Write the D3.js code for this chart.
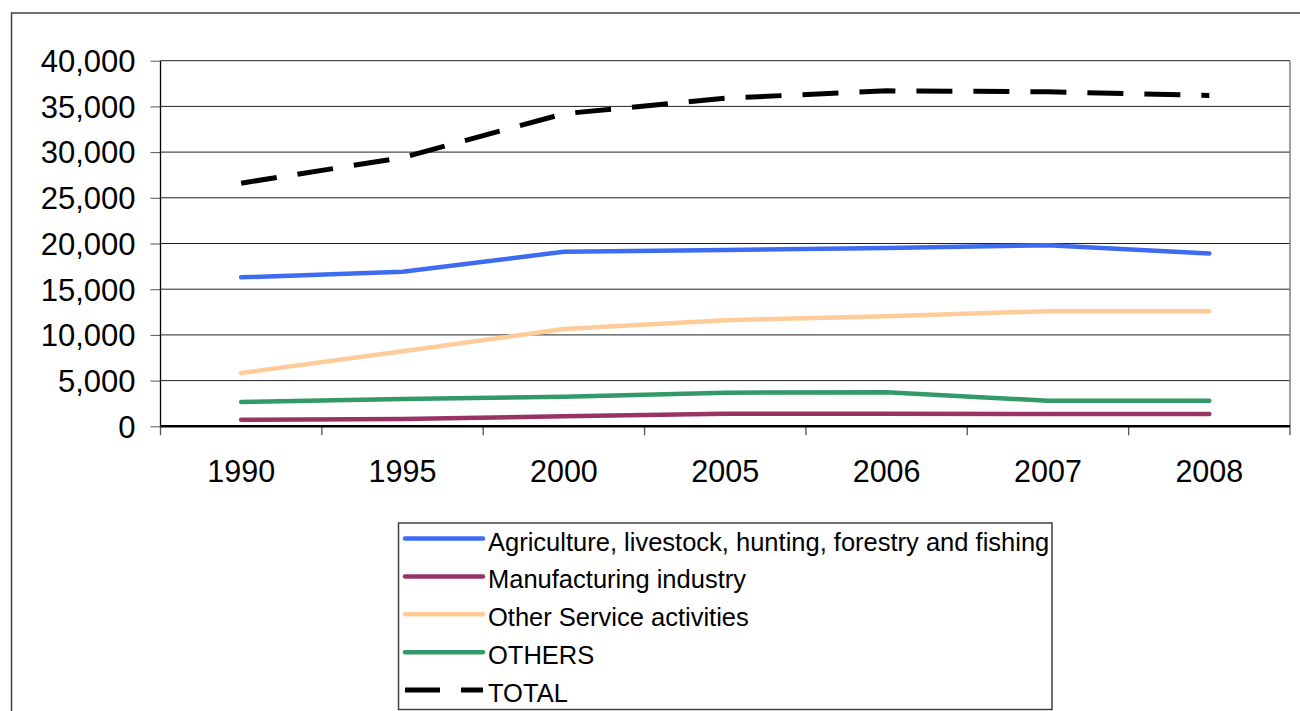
<!DOCTYPE html>
<html lang="en">
<head>
    <meta charset="UTF-8">
    <title>Employment by sector</title>
    <script src="https://d3js.org/d3.v7.min.js"></script>
    <style>
        body { margin: 0; background: #fff; }
        svg { display: block; font-family: "Liberation Sans", Arial, sans-serif; }
        .axis .domain { display: none; }
    </style>
</head>
<body>
    <svg id="chart" width="1300" height="711"></svg>
    <script>
        const years = ["1990", "1995", "2000", "2005", "2006", "2007", "2008"];
        const agriculture = [16300, 16900, 19100, 19300, 19500, 19800, 18900];
        const manufacturing = [720, 800, 1090, 1380, 1380, 1350, 1350];
        const otherServices = [5830, 8200, 10650, 11600, 12050, 12600, 12600];
        const others = [2660, 2990, 3240, 3680, 3720, 2800, 2800];
        const total = [26600, 29400, 34200, 35900, 36700, 36600, 36200];
        const yTicks = [0, 5000, 10000, 15000, 20000, 25000, 30000, 35000, 40000];

        const series = [
            {name: "Agriculture, livestock, hunting, forestry and fishing", values: agriculture, color: "#3d6cf0", dash: null},
            {name: "Manufacturing industry", values: manufacturing, color: "#993366", dash: null},
            {name: "Other Service activities", values: otherServices, color: "#ffcc99", dash: null},
            {name: "OTHERS", values: others, color: "#339966", dash: null},
            {name: "TOTAL", values: total, color: "#000000", dash: "36,21"}
        ];

        const svg = d3.select("#chart");
        const plot = {left: 160.5, right: 1290, top: 60.7, bottom: 426.3};

        // outer chart frame (runs off the right and bottom edges)
        svg.append("rect")
            .attr("x", 11.5).attr("y", 13)
            .attr("width", 1400).attr("height", 800)
            .attr("fill", "none")
            .attr("stroke", "#404040")
            .attr("stroke-width", 1.5);

        const x = d3.scaleBand().domain(years).range([plot.left, plot.right]);
        const y = d3.scaleLinear().domain([0, 40000]).range([plot.bottom, plot.top]);
        const cx = d => x(d) + x.bandwidth() / 2;

        // gridlines
        svg.append("g")
            .selectAll("line")
            .data(yTicks.filter(d => d > 0))
            .join("line")
            .attr("x1", plot.left).attr("x2", plot.right)
            .attr("y1", d => y(d)).attr("y2", d => y(d))
            .attr("stroke", "#222")
            .attr("stroke-width", 1);

        // right edge of plot area
        svg.append("line")
            .attr("x1", plot.right).attr("x2", plot.right)
            .attr("y1", plot.top).attr("y2", plot.bottom)
            .attr("stroke", "#808080").attr("stroke-width", 1.5);

        // y axis
        const yAxis = svg.append("g")
            .attr("class", "axis")
            .attr("transform", `translate(${plot.left},0)`)
            .call(d3.axisLeft(y).tickValues(yTicks).tickFormat(d3.format(",")).tickSize(10).tickPadding(15));
        yAxis.selectAll(".tick line").attr("stroke", "#555");
        yAxis.selectAll("text").attr("font-size", 31).attr("fill", "#000").attr("dy", "0.35em");
        svg.append("line")
            .attr("x1", plot.left).attr("x2", plot.left)
            .attr("y1", plot.top).attr("y2", plot.bottom)
            .attr("stroke", "#000").attr("stroke-width", 1.3);

        // x axis: labels at category centers, ticks at boundaries
        const xAxis = svg.append("g")
            .attr("class", "axis")
            .attr("transform", `translate(0,${plot.bottom})`)
            .call(d3.axisBottom(x).tickSize(0).tickPadding(34));
        xAxis.selectAll("text").attr("font-size", 30.5).attr("fill", "#000");

        const bounds = years.map(d => x(d)).concat([plot.right]);
        svg.append("g")
            .selectAll("line")
            .data(bounds)
            .join("line")
            .attr("x1", d => d).attr("x2", d => d)
            .attr("y1", plot.bottom).attr("y2", plot.bottom + 9)
            .attr("stroke", "#555").attr("stroke-width", 1.3);
        svg.append("line")
            .attr("x1", plot.left).attr("x2", plot.right)
            .attr("y1", plot.bottom).attr("y2", plot.bottom)
            .attr("stroke", "#000").attr("stroke-width", 2.5);

        // series lines
        const line = d3.line()
            .x((d, i) => cx(years[i]))
            .y(d => y(d));

        svg.append("g")
            .selectAll("path")
            .data(series)
            .join("path")
            .attr("d", d => line(d.values))
            .attr("fill", "none")
            .attr("stroke", d => d.color)
            .attr("stroke-width", d => d.dash ? 5 : 4.5)
            .attr("stroke-linecap", d => d.dash ? "butt" : "round")
            .attr("stroke-linejoin", "round")
            .attr("stroke-dasharray", d => d.dash);

        // legend
        const legend = svg.append("g");
        legend.append("rect")
            .attr("x", 398.5).attr("y", 523)
            .attr("width", 653.5).attr("height", 186.5)
            .attr("fill", "#fff")
            .attr("stroke", "#404040")
            .attr("stroke-width", 1.5);

        const rows = legend.selectAll("g.row")
            .data(series)
            .join("g")
            .attr("class", "row")
            .attr("transform", (d, i) => `translate(0,${538.5 + i * 37.9})`);
        rows.append("line")
            .attr("x1", 405).attr("x2", 483)
            .attr("y1", 0).attr("y2", 0)
            .attr("stroke", d => d.color)
            .attr("stroke-width", d => d.dash ? 5 : 4.5)
            .attr("stroke-linecap", d => d.dash ? "butt" : "round")
            .attr("stroke-dasharray", d => d.dash ? "35,21" : null);
        rows.append("text")
            .attr("x", 488)
            .attr("y", 12)
            .attr("font-size", 25.5)
            .attr("fill", "#000")
            .text(d => d.name);
    </script>
</body>
</html>
